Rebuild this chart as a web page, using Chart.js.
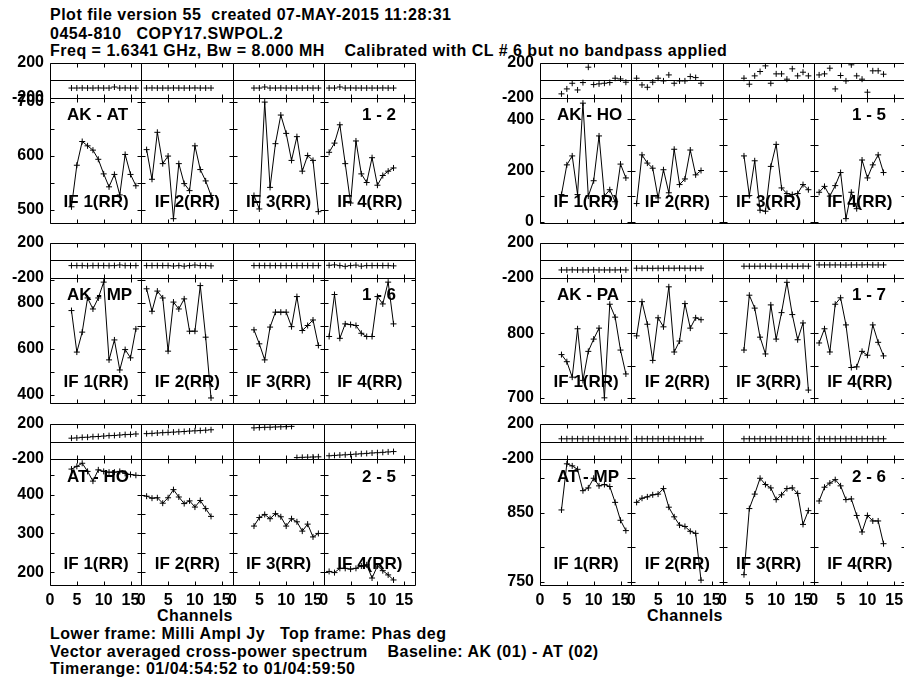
<!DOCTYPE html>
<html>
<head>
<meta charset="utf-8">
<title>POSSM cross-power spectrum</title>
<script src="https://cdn.jsdelivr.net/npm/chart.js@4.4.1/dist/chart.umd.min.js"></script>
<style>
  html, body { margin: 0; padding: 0; background: #fff; overflow: hidden; }
  #page { position: relative; width: 904px; height: 680px; overflow: hidden; background: #fff;
          font-family: "Liberation Sans", Arial, Helvetica, sans-serif; font-weight: bold; color: #000; }
  .txt { position: absolute; font-size: 16px; line-height: 18px; letter-spacing: 0.5px; white-space: pre; }
  .panel { position: absolute; }
  .panel canvas { display: block; }
</style>
</head>
<body>
<div id="page">
  <div class="txt" style="left:50px; top:6px">Plot file version 55  created 07-MAY-2015 11:28:31</div>
  <div class="txt" style="left:50px; top:25px">0454-810   COPY17.SWPOL.2</div>
  <div class="txt" style="left:50px; top:42px">Freq = 1.6341 GHz, Bw = 8.000 MH    Calibrated with CL # 6 but no bandpass applied</div>

  <div class="txt" style="left:157px; top:607px">Channels</div>
  <div class="txt" style="left:647px; top:607px">Channels</div>

  <div class="txt" style="left:50px; top:625px">Lower frame: Milli Ampl Jy   Top frame: Phas deg</div>
  <div class="txt" style="left:50px; top:643px">Vector averaged cross-power spectrum    Baseline: AK (01) - AT (02)</div>
  <div class="txt" style="left:50px; top:660px">Timerange: 01/04:54:52 to 01/04:59:50</div>
</div>
<script>
// channels plotted in each IF (edge channels are flagged)
const ifChannels = [
  [4, 5, 6, 7, 8, 9, 10, 11, 12, 13, 14, 15, 16],
  [1, 2, 3, 4, 5, 6, 7, 8, 9, 10, 11, 12, 13],
  [4, 5, 6, 7, 8, 9, 10, 11, 12, 13, 14, 15, 16],
  [1, 2, 3, 4, 5, 6, 7, 8, 9, 10, 11, 12, 13]
];
const ifLabels = ['IF 1(RR)', 'IF 2(RR)', 'IF 3(RR)', 'IF 4(RR)'];
const channelTicks = [0, 5, 10, 15];
const phaseTicks = [-200, 200];

// AK - AT  (1 - 2)
const akAtAmp = [
  [505, 582, 626, 618, 610, 593, 566, 542, 565, 527, 602, 565, 544],
  [611, 556, 643, 585, 599, 483, 585, 548, 535, 618, 574, 553, 526],
  [526, 501, 699, 541, 622, 675, 641, 591, 635, 571, 600, 591, 496],
  [606, 623, 657, 585, 512, 627, 566, 550, 596, 545, 563, 571, 577]
];
const akAtPhase = [
  [-88, -88, -87, -88, -88, -87, -88, -88, -76, -88, -87, -88, -88],
  [-88, -87, -88, -88, -88, -87, -88, -88, -88, -87, -88, -88, -88],
  [-88, -88, -76, -88, -88, -87, -88, -88, -88, -88, -87, -88, -88],
  [-88, -88, -76, -88, -87, -88, -88, -88, -88, -88, -87, -88, -88]
];
const akAtTicks = [500, 550, 600, 650, 700];
const akAtTickLabels = [500, 600, 700];

// AK - MP  (1 - 6)
const akMpAmp = [
  [767, 586, 673, 822, 774, 822, 891, 552, 639, 508, 597, 561, 687],
  [862, 764, 852, 822, 590, 804, 774, 818, 677, 677, 876, 651, 386],
  [683, 622, 552, 695, 760, 760, 760, 697, 828, 680, 702, 726, 615],
  [654, 837, 646, 709, 706, 702, 668, 654, 654, 828, 796, 891, 709]
];
const akMpPhase = [
  [-60, -60, -60, -62, -60, -60, -60, -61, -60, -54, -60, -60, -60],
  [-60, -60, -60, -60, -60, -64, -60, -66, -60, -54, -60, -60, -63],
  [-60, -60, -60, -60, -60, -60, -60, -60, -60, -60, -60, -60, -60],
  [-57, -52, -60, -68, -60, -55, -66, -60, -60, -60, -60, -60, -63]
];
const akMpTicks = [400, 500, 600, 700, 800, 900];
const akMpTickLabels = [400, 600, 800];

// AT - HO  (2 - 5)
const atHoAmp = [
  [466, 473, 481, 460, 435, 464, 460, 458, 458, 460, 455, 452, 450],
  [396, 391, 392, 378, 392, 413, 394, 377, 384, 368, 385, 364, 344],
  [319, 341, 349, 338, 351, 343, 319, 338, 330, 306, 324, 291, 300],
  [202, 199, 210, 210, 208, 210, 216, 219, 185, 216, 204, 193, 180]
];
const atHoPhase = [
  [38, 41, 47, 49, 55, 57, 62, 67, 69, 74, 79, 81, 86],
  [90, 93, 97, 101, 104, 107, 111, 114, 119, 122, 125, 129, 134],
  [156, 159, 162, 163, 166, 168, 170, 173, -184, -181, -179, -177, -175],
  [-163, -159, -155, -152, -148, -144, -140, -136, -131, -128, -124, -119, -115]
];
const atHoTicks = [200, 250, 300, 350, 400, 450];
const atHoTickLabels = [200, 300, 400];

// AK - HO  (1 - 5)
const akHoAmp = [
  [106, 222, 257, 106, 463, 100, 160, 335, 100, 125, 78, 225, 171],
  [71, 261, 229, 209, 93, 203, 113, 283, 145, 167, 280, 183, 200],
  [257, 102, 238, 45, 41, 216, 302, 132, 110, 106, 110, 145, 125],
  [115, 138, 100, 141, 192, 12, 115, 51, 241, 171, 222, 261, 192]
];
const akHoPhase = [
  [-155, -98, -33, -110, -25, 152, -48, -40, -33, -25, 25, 17, -21],
  [25, -52, -79, -21, 25, -6, 63, -33, -6, -6, 44, 32, -33],
  [25, -44, 52, 102, 167, -33, 75, 75, 14, 133, 52, 94, 52],
  [63, 75, 140, -98, 56, -6, 179, 52, 14, -136, 110, 110, 71]
];
const akHoTicks = [0, 100, 200, 300, 400];
const akHoTickLabels = [0, 200, 400];

// AK - PA  (1 - 7)
const akPaAmp = [
  [767, 756, 732, 807, 727, 772, 791, 808, 700, 845, 825, 774, 737],
  [796, 849, 814, 758, 824, 810, 872, 771, 788, 846, 808, 824, 821],
  [774, 859, 839, 794, 768, 844, 791, 832, 879, 829, 790, 816, 712],
  [785, 807, 771, 845, 855, 813, 747, 748, 772, 766, 813, 786, 765]
];
const akPaPhase = [
  [-110, -110, -109, -110, -110, -110, -109, -110, -110, -110, -110, -109, -110],
  [-90, -90, -90, -91, -90, -90, -90, -90, -89, -90, -90, -90, -90],
  [-67, -67, -67, -67, -66, -67, -67, -67, -67, -67, -67, -66, -67],
  [-52, -52, -52, -52, -52, -53, -52, -52, -52, -51, -52, -52, -52]
];
const akPaTicks = [700, 750, 800, 850];
const akPaTickLabels = [700, 800];

// AT - MP  (2 - 6)
const atMpAmp = [
  [854, 921, 918, 913, 882, 886, 900, 889, 891, 888, 865, 839, 824],
  [865, 871, 873, 876, 877, 885, 858, 844, 832, 830, 823, 820, 752],
  [760, 856, 877, 900, 891, 886, 869, 876, 885, 886, 878, 833, 853],
  [867, 887, 893, 898, 889, 869, 870, 846, 822, 846, 838, 838, 805]
];
const atMpPhase = [
  [31, 31, 31, 31, 31, 31, 31, 31, 31, 31, 31, 31, 31],
  [31, 31, 31, 31, 31, 31, 31, 31, 31, 31, 31, 31, 31],
  [31, 31, 31, 31, 31, 31, 31, 31, 31, 31, 31, 31, 31],
  [31, 31, 31, 31, 31, 31, 31, 30, 31, 31, 31, 31, 31]
];
const atMpTicks = [750, 800, 850, 900];
const atMpTickLabels = [750, 850];

// page geometry of the plot frames
const PANEL_W = 420;       // canvas width of one baseline panel
const AXIS_W = 50;         // room for the y tick labels
const PAD_TOP = 12;
const PAD_BOTTOM = 4;
const PHASE_H = 35;
const AMP_H = 126;
const XAXIS_H = 26;
const TICK = 4;
const FONT = '"Liberation Sans", Arial, Helvetica, sans-serif';

Chart.defaults.font.family = FONT;
Chart.defaults.font.weight = 'bold';
Chart.defaults.font.size = 16;
Chart.defaults.color = '#000';

const panels = [
  { left: 0,   top: 63,  name: 'AK - AT', pair: '1 - 2', amp: akAtAmp, phase: akAtPhase,
    ampMin: 475, ampMax: 707, ticks: akAtTicks, tickLabels: akAtTickLabels, bottom: false },
  { left: 0,   top: 243, name: 'AK - MP', pair: '1 - 6', amp: akMpAmp, phase: akMpPhase,
    ampMin: 364, ampMax: 910, ticks: akMpTicks, tickLabels: akMpTickLabels, bottom: false },
  { left: 0,   top: 424, name: 'AT - HO', pair: '2 - 5', amp: atHoAmp, phase: atHoPhase,
    ampMin: 167, ampMax: 492, ticks: atHoTicks, tickLabels: atHoTickLabels, bottom: true },
  { left: 490, top: 63,  name: 'AK - HO', pair: '1 - 5', amp: akHoAmp, phase: akHoPhase,
    ampMin: -5, ampMax: 484, ticks: akHoTicks, tickLabels: akHoTickLabels, bottom: false },
  { left: 490, top: 243, name: 'AK - PA', pair: '1 - 7', amp: akPaAmp, phase: akPaPhase,
    ampMin: 692, ampMax: 886, ticks: akPaTicks, tickLabels: akPaTickLabels, bottom: false },
  { left: 490, top: 424, name: 'AT - MP', pair: '2 - 6', amp: atMpAmp, phase: atMpPhase,
    ampMin: 745, ampMax: 928, ticks: atMpTicks, tickLabels: atMpTickLabels, bottom: true }
];

// frames, inward tick marks, zero-phase line and the in-plot labels
function framePlugin(p) {
  return {
    id: 'possmFrames',
    afterDatasetsDraw(chart) {
      const ctx = chart.ctx;
      const xs = [0, 1, 2, 3].map(i => chart.scales['x' + i]);
      const yp = chart.scales.phase;
      const ya = chart.scales.amp;
      const px = v => Math.round(v) + 0.5;

      ctx.save();
      ctx.strokeStyle = '#000';
      ctx.lineWidth = 1;
      ctx.beginPath();
      xs.forEach(sx => {
        const l = px(sx.left), r = px(sx.right);
        [yp, ya].forEach(sy => {
          const t = px(sy.top), b = px(sy.bottom);
          ctx.rect(l, t, r - l, b - t);
          channelTicks.forEach(c => {
            const x = px(sx.getPixelForValue(c));
            ctx.moveTo(x, t); ctx.lineTo(x, t + TICK);
            ctx.moveTo(x, b); ctx.lineTo(x, b - TICK);
          });
        });
        p.ticks.forEach(v => {
          const y = px(ya.getPixelForValue(v));
          ctx.moveTo(l, y); ctx.lineTo(l + TICK, y);
          ctx.moveTo(r, y); ctx.lineTo(r - TICK, y);
        });
      });
      const y0 = px(yp.getPixelForValue(0));
      ctx.moveTo(px(xs[0].left), y0);
      ctx.lineTo(px(xs[3].right), y0);
      ctx.stroke();

      ctx.fillStyle = '#000';
      ctx.font = 'bold 17px ' + FONT;
      ctx.textBaseline = 'middle';
      ctx.textAlign = 'left';
      ctx.fillText(p.name, xs[0].left + 17, ya.top + 18);
      ctx.textAlign = 'right';
      ctx.fillText(p.pair, xs[3].right - 19, ya.top + 18);
      ctx.textAlign = 'center';
      xs.forEach((sx, i) => {
        ctx.fillText(ifLabels[i], (sx.left + sx.right) / 2 + 0.5, ya.bottom - 21);
      });
      ctx.restore();
    }
  };
}

function buildPanel(p) {
  const wrap = document.createElement('div');
  wrap.className = 'panel';
  wrap.style.left = p.left + 'px';
  wrap.style.top = (p.top - PAD_TOP) + 'px';
  const canvas = document.createElement('canvas');
  canvas.width = PANEL_W;
  canvas.height = PAD_TOP + PHASE_H + AMP_H + (p.bottom ? XAXIS_H : PAD_BOTTOM);
  wrap.appendChild(canvas);
  document.getElementById('page').appendChild(wrap);

  const datasets = [];
  const scales = {};
  for (let i = 0; i < 4; i++) {
    scales['x' + i] = {
      type: 'linear',
      position: 'bottom',
      stack: 'channels',
      stackWeight: 1,
      min: 0,
      max: 17,
      grid: { display: false, drawTicks: false },
      border: { display: false },
      ticks: {
        display: p.bottom,
        autoSkip: false,
        maxRotation: 0,
        padding: 6,
        callback: v => String(v)
      },
      afterBuildTicks: s => { s.ticks = channelTicks.map(v => ({ value: v })); },
      afterFit: s => {
        s.height = p.bottom ? XAXIS_H : 0;
        s.paddingLeft = 0;
        s.paddingRight = 0;
      }
    };
    datasets.push({
      label: ifLabels[i] + ' ampl',
      data: ifChannels[i].map((c, k) => ({ x: c, y: p.amp[i][k] })),
      xAxisID: 'x' + i,
      yAxisID: 'amp',
      showLine: true,
      borderColor: '#000',
      borderWidth: 1,
      pointStyle: 'cross',
      pointRadius: 3,
      pointBorderWidth: 1,
      pointBorderColor: '#000',
      tension: 0
    });
    datasets.push({
      label: ifLabels[i] + ' phase',
      data: ifChannels[i].map((c, k) => ({ x: c, y: p.phase[i][k] })),
      xAxisID: 'x' + i,
      yAxisID: 'phase',
      showLine: false,
      pointStyle: 'cross',
      pointRadius: 3,
      pointBorderWidth: 1,
      pointBorderColor: '#000'
    });
  }

  // amplitude first, phase second: stacked left axes are laid out last-defined on top
  scales.amp = {
    type: 'linear',
    position: 'left',
    stack: 'frames',
    stackWeight: AMP_H,
    min: p.ampMin,
    max: p.ampMax,
    grid: { display: false, drawTicks: false },
    border: { display: false },
    ticks: {
      autoSkip: false,
      padding: 6,
      callback: v => (p.tickLabels.includes(v) ? String(v) : '')
    },
    afterBuildTicks: s => { s.ticks = p.ticks.map(v => ({ value: v })); },
    afterFit: s => { s.width = AXIS_W; s.paddingTop = 0; s.paddingBottom = 0; }
  };
  scales.phase = {
    type: 'linear',
    position: 'left',
    stack: 'frames',
    stackWeight: PHASE_H,
    min: -200,
    max: 200,
    grid: { display: false, drawTicks: false },
    border: { display: false },
    ticks: { autoSkip: false, padding: 6, callback: v => String(v) },
    afterBuildTicks: s => { s.ticks = phaseTicks.map(v => ({ value: v })); },
    afterFit: s => { s.width = AXIS_W; s.paddingTop = 0; s.paddingBottom = 0; }
  };

  new Chart(canvas, {
    type: 'scatter',
    data: { datasets },
    options: {
      responsive: false,
      animation: false,
      devicePixelRatio: 1,
      events: [],
      layout: { padding: { left: 0, right: PANEL_W - AXIS_W - 367, top: PAD_TOP, bottom: p.bottom ? 0 : PAD_BOTTOM } },
      plugins: { legend: { display: false }, tooltip: { enabled: false } },
      scales
    },
    plugins: [framePlugin(p)]
  });
}

panels.forEach(buildPanel);
</script>
</body>
</html>
